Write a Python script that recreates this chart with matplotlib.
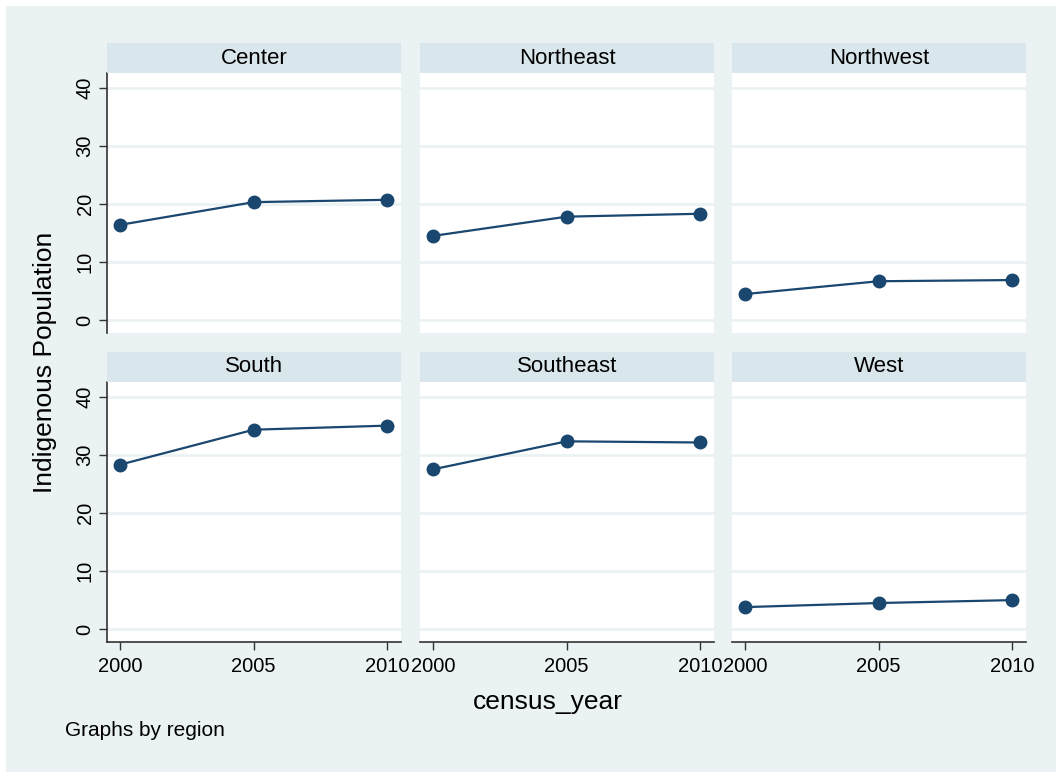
import matplotlib.pyplot as plt

plt.rcParams['font.family'] = ['Liberation Sans', 'DejaVu Sans']

# Data
years = [2000, 2005, 2010]
regions = ['Center', 'Northeast', 'Northwest', 'South', 'Southeast', 'West']
center = [16.4, 20.3, 20.7]
northeast = [14.5, 17.8, 18.3]
northwest = [4.5, 6.7, 6.9]
south = [28.3, 34.3, 35.0]
southeast = [27.5, 32.3, 32.1]
west = [3.8, 4.5, 5.0]
series = [center, northeast, northwest, south, southeast, west]
yticks = [0, 10, 20, 30, 40]

W, H = 1063, 776
navy = '#1a476f'
bg = '#eaf2f3'
strip = '#d9e6eb'
axis_col = '#333333'

fig = plt.figure(figsize=(W / 100, H / 100), dpi=100)
fig.patch.set_facecolor('white')

# light background frame
frame = fig.add_axes([6 / W, 4 / H, 1050 / W, 766 / H])
frame.set_facecolor(bg)
frame.set_xticks([])
frame.set_yticks([])
for s in frame.spines.values():
    s.set_visible(False)
frame.set_zorder(-5)

col_x = [107, 420, 732]
col_w = 294
row_top = [73, 382]
plot_h = 260
strip_h = 30

def px_rect(x, y, w, h):
    return [x / W, 1 - (y + h) / H, w / W, h / H]

for i, (name, vals) in enumerate(zip(regions, series)):
    r, c = divmod(i, 3)
    x0, y0 = col_x[c], row_top[r]
    ax = fig.add_axes(px_rect(x0, y0, col_w, plot_h))
    ax.set_facecolor('white')
    ax.set_xlim(1999.5, 2010.52)
    ax.set_ylim(-2.2, 42.5)
    for y in yticks:
        ax.axhline(y, color=bg, lw=2, zorder=0)
    ax.plot(years, vals, color=navy, lw=1.6, marker='o', ms=9, zorder=3)

    for s in ax.spines.values():
        s.set_visible(False)
    ax.set_yticks(yticks)
    ax.set_xticks(years)
    if c == 0:
        ax.spines['left'].set_visible(True)
        ax.spines['left'].set_color(axis_col)
        ax.spines['left'].set_linewidth(1.2)
        ax.tick_params(axis='y', length=6, width=1, color=axis_col, labelsize=14.5,
                       pad=3, labelrotation=90)
        for lab in ax.get_yticklabels():
            lab.set_va('center')
    else:
        ax.tick_params(axis='y', left=False, labelleft=False)
    if r == 1:
        ax.spines['bottom'].set_visible(True)
        ax.spines['bottom'].set_color(axis_col)
        ax.spines['bottom'].set_linewidth(1.2)
        ax.tick_params(axis='x', length=6, width=1, color=axis_col, labelsize=14.5, pad=5)
    else:
        ax.tick_params(axis='x', bottom=False, labelbottom=False)

    # strip header
    sax = fig.add_axes(px_rect(x0, y0 - strip_h, col_w, strip_h))
    sax.set_facecolor(strip)
    sax.set_xticks([])
    sax.set_yticks([])
    for s in sax.spines.values():
        s.set_visible(False)
    sax.text(0.5, 0.5, name, ha='center', va='center', fontsize=16, transform=sax.transAxes)

fig.text(45 / W, 1 - 362 / H, 'Indigenous Population', rotation=90, ha='center', va='center',
         fontsize=19)
fig.text(548 / W, 1 - 702 / H, 'census_year', ha='center', va='center', fontsize=19)
fig.text(65 / W, 1 - 731 / H, 'Graphs by region', ha='left', va='center', fontsize=15)

fig.savefig('out.png', dpi=100, facecolor=fig.get_facecolor())
